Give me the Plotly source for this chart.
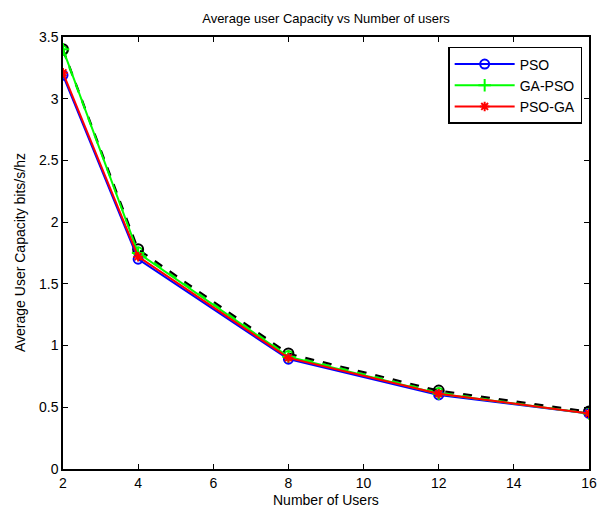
import plotly.graph_objects as go

users = [2, 4, 8, 12, 16]
pso = [3.19, 1.70, 0.89, 0.60, 0.45]
ga_pso = [3.40, 1.75, 0.91, 0.61, 0.45]
pso_ga = [3.21, 1.72, 0.90, 0.61, 0.45]
ref_black = [3.40, 1.78, 0.935, 0.635, 0.465]
ref_green = [3.39, 1.76, 0.92, 0.62, 0.455]

fig = go.Figure()
fig.add_trace(go.Scatter(x=users, y=ref_green, mode="lines+markers", showlegend=False,
                         line=dict(color="#00ff00", width=2, dash="dash"),
                         marker=dict(symbol="circle-open", size=9, color="#00ff00", line=dict(width=2))))
fig.add_trace(go.Scatter(x=users, y=ref_black, mode="lines+markers", showlegend=False,
                         line=dict(color="black", width=2, dash="dash"),
                         marker=dict(symbol="circle-open", size=10, color="black", line=dict(width=2))))
fig.add_trace(go.Scatter(x=users, y=pso, mode="lines+markers", name="PSO",
                         line=dict(color="#0000ff", width=2),
                         marker=dict(symbol="circle-open", size=9, color="#0000ff", line=dict(width=2))))
fig.add_trace(go.Scatter(x=users, y=ga_pso, mode="lines+markers", name="GA-PSO",
                         line=dict(color="#00ff00", width=2),
                         marker=dict(symbol="cross-thin-open", size=9, color="#00ff00", line=dict(width=2))))
fig.add_trace(go.Scatter(x=users, y=pso_ga, mode="lines+markers", name="PSO-GA",
                         line=dict(color="#ff0000", width=2),
                         marker=dict(symbol="asterisk-open", size=8, color="#ff0000", line=dict(width=2))))

axis_common = dict(showline=True, linecolor="black", linewidth=1.5, mirror="allticks",
                   ticks="inside", ticklen=5, tickcolor="black", showgrid=False, zeroline=False,
                   automargin=False, tickfont=dict(size=14, color="black"))
fig.update_layout(
    width=597, height=510,
    margin=dict(l=63, r=8, t=37, b=41),
    paper_bgcolor="white", plot_bgcolor="white",
    font=dict(family="Liberation Sans, Arial, sans-serif", color="black"),
    title=dict(text="Average user Capacity vs Number of users", xref="paper", x=0.5, xanchor="center",
               y=1 - 18 / 510, yanchor="middle", font=dict(size=13, color="black")),
    xaxis=dict(range=[2, 16], tickvals=[2, 4, 6, 8, 10, 12, 14, 16], **axis_common),
    yaxis=dict(range=[0, 3.5], tickvals=[0, 0.5, 1, 1.5, 2, 2.5, 3, 3.5],
               ticktext=["0", "0.5", "1", "1.5", "2", "2.5", "3", "3.5"], **axis_common),
    legend=dict(x=0.987, y=0.977, xanchor="right", yanchor="top", bordercolor="black", borderwidth=1.5,
                bgcolor="white", font=dict(size=14), tracegroupgap=0, itemwidth=60),
    showlegend=True,
    annotations=[
        dict(text="Number of Users", xref="paper", yref="paper", x=0.5, y=-31 / 432,
             xanchor="center", yanchor="middle", showarrow=False, font=dict(size=14, color="black")),
        dict(text="Average User Capacity bits/s/hz", xref="paper", yref="paper", x=-43 / 526, y=0.5,
             xanchor="center", yanchor="middle", textangle=-90, showarrow=False,
             font=dict(size=14, color="black")),
    ],
)
fig.write_html("out.html", config={"displayModeBar": False},
               post_script="document.body.style.margin='0';document.body.style.overflow='hidden';")
